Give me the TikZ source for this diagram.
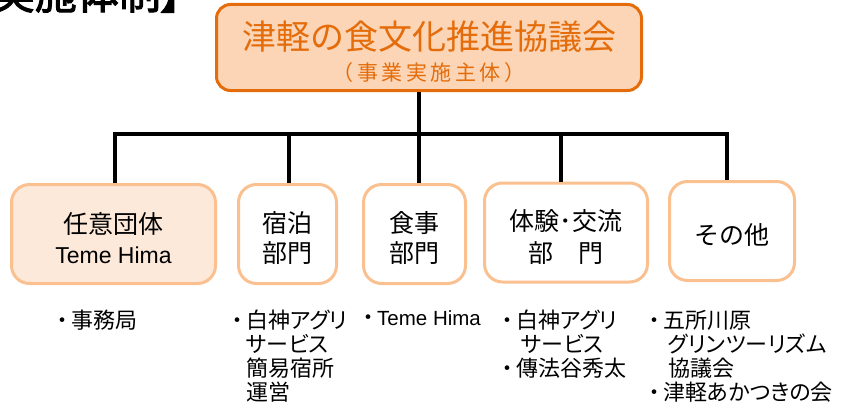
\documentclass[tikz,border=0pt]{standalone}
\usepackage{fontspec}
\setmainfont{Noto Sans CJK JP}
\newfontfamily\lat{Liberation Sans}
\newfontfamily\pfont[RawFeature=+palt]{Noto Sans CJK JP}
\newfontfamily\ttlfont[FakeBold=2.5,RawFeature=+palt]{Noto Sans CJK JP}
\definecolor{dkor}{HTML}{E46C0A}
\definecolor{peach}{HTML}{FBD5B5}
\definecolor{ltor}{HTML}{FAC090}
\definecolor{pale}{HTML}{FDE9D9}
\newcommand{\bul}{・\hspace*{3pt}}
\newcommand{\ind}{\phantom{・}\hspace*{3pt}}
\begin{document}
\begin{tikzpicture}[x=1pt,y=-1pt,
  topbox/.style={draw=dkor, fill=peach, line width=3pt, rounded corners=14pt,
    minimum width=425pt, minimum height=86pt, inner sep=0pt},
  toptxt/.style={inner sep=0pt, text=dkor},
  kid/.style={draw=ltor, fill=white, line width=3pt, rounded corners=18pt,
    minimum height=99pt, inner sep=0pt},
  kidtxt/.style={inner sep=0pt, align=center, font=\fontsize{25}{30}\selectfont},
  note/.style={anchor=north west, inner sep=0pt, align=left, font=\pfont\fontsize{22}{24}\selectfont},
  conn/.style={line width=4.5pt, black}]
\useasboundingbox (0,0) rectangle (845,412);
% title (clipped at the edge)
\node[anchor=base east, inner sep=0pt, font=\ttlfont\fontsize{42}{42}\selectfont] (ttl) at (182,9) {【実施体制】};
% top box
\node[topbox] (top) at (429,47.5) {};
\node[toptxt, font=\fontsize{34}{40}\selectfont] (topa) at (429,37) {津軽の食文化推進協議会};
\node[toptxt, font=\fontsize{21}{26}\selectfont] (topb) at (429,73) {（\,事\,業\,実\,施\,主\,体\,）};
% children
\node[kid, fill=pale, minimum width=204pt] (c1) at (113.5,234) {};
\node[kid, minimum width=98pt] (c2) at (287.5,234) {};
\node[kid, minimum width=102pt] (c3) at (414.5,234) {};
\node[kid, minimum width=163pt] (c4) at (566,232.5) {};
\node[kid, minimum width=125pt] (c5) at (732,231) {};
\node[kidtxt] (t1) at ([yshift=-4pt]c1.center) {任意団体\\{\lat\fontsize{23}{30}\selectfont Teme Hima}};
\node[kidtxt] (t2) at ([yshift=-4pt]c2.center) {宿泊\\部門};
\node[kidtxt] (t3) at ([yshift=-4pt]c3.center) {食事\\部門};
\node[kidtxt, font=\fontsize{25}{32}\selectfont] (t4) at ([yshift=-4pt]c4.center) {体験･交流\\部　門};
\node[kidtxt] (t5) at ([yshift=-4pt]c5.center) {その他};
% connectors
\coordinate (j1) at (115,134);
\coordinate (j2) at (289,134);
\coordinate (j3) at (419,134);
\coordinate (j4) at (561,134);
\coordinate (j5) at (727,134);
\draw[conn] (j1 |- c1.north) -- (j1) -- (j5) -- (j5 |- c5.north);
\draw[conn] (j2) -- (j2 |- c2.north);
\draw[conn] (top.south -| j3) -- (j3 |- c3.north);
\draw[conn] (j4) -- (j4 |- c4.north);
% notes
\node[note] (b1) at (57,310) {\bul 事務局};
\node[note] (b2) at (232,310) {\bul 白神アグリ\\\ind サービス\\\ind 簡易宿所\\\ind 運営};
\node[note] (b3) at (363,310) {\bul{\lat\fontsize{20.5}{24}\selectfont Teme Hima}};
\node[note] (b4) at (502,310) {\bul 白神アグリ\\\ind\hspace*{5pt}サービス\\\bul 傳法谷秀太};
\node[note] (b5) at (649,310) {\bul 五所川原\\\ind\hspace*{5pt}グリンツーリズム\\\ind\hspace*{5pt}協議会\\\bul 津軽あかつきの会};
\end{tikzpicture}
\end{document}
